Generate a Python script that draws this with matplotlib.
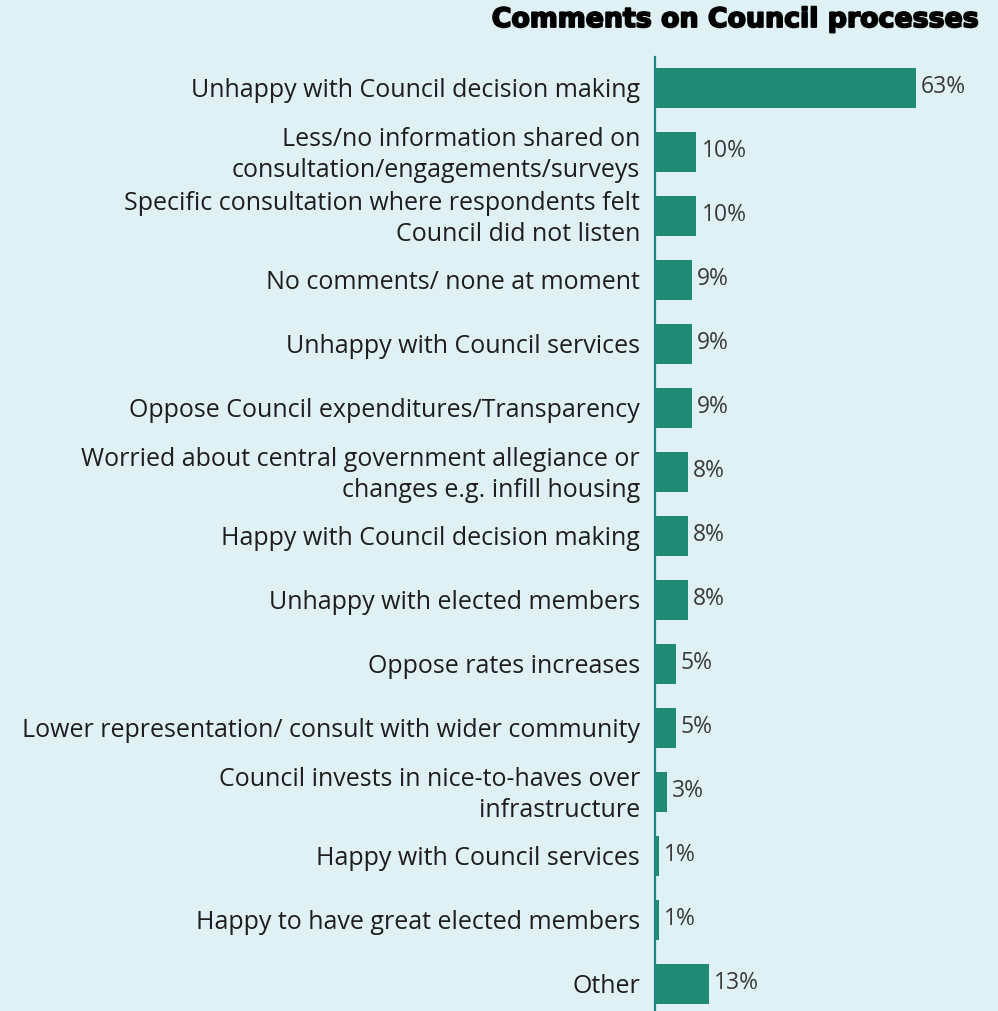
import matplotlib
matplotlib.use("Agg")
import matplotlib.pyplot as plt
import matplotlib.patheffects as pe

categories = [
    "Unhappy with Council decision making",
    "Less/no information shared on\nconsultation/engagements/surveys",
    "Specific consultation where respondents felt\nCouncil did not listen",
    "No comments/ none at moment",
    "Unhappy with Council services",
    "Oppose Council expenditures/Transparency",
    "Worried about central government allegiance or\nchanges e.g. infill housing",
    "Happy with Council decision making",
    "Unhappy with elected members",
    "Oppose rates increases",
    "Lower representation/ consult with wider community",
    "Council invests in nice-to-haves over\ninfrastructure",
    "Happy with Council services",
    "Happy to have great elected members",
    "Other",
]
percentages = [63, 10, 10, 9, 9, 9, 8, 8, 8, 5, 5, 3, 1, 1, 13]
title = "Comments on Council processes"

BG = "#dff1f4"
BAR = "#1f8b75"
AXIS = "#1c8a82"
TEXT = "#1e1e1e"
VAL = "#3a3a3a"

W, H = 998, 1012
fig = plt.figure(figsize=(W / 100, H / 100), dpi=100, facecolor=BG)

x0 = 655
ax = fig.add_axes([x0 / W, 0, 1 - x0 / W, 1 - 58 / H])
ax.set_facecolor(BG)

pos = list(range(len(categories)))
ax.barh(pos, percentages, height=0.625, color=BAR, zorder=2)

scale = (916 - x0) / 63.0
ax.set_xlim(0, (W - x0) / scale)
ax.set_ylim((1012 - 89) / 64, (58 - 89) / 64)

for side in ["top", "right", "bottom"]:
    ax.spines[side].set_visible(False)
ax.spines["left"].set_color(AXIS)
ax.spines["left"].set_linewidth(1.6)
ax.set_xticks([])
ax.set_yticks([])

font = "Open Sans"
for p, lab, v in zip(pos, categories, percentages):
    ax.text(-15 / scale, p + 0.03, lab, ha="right", va="center", fontsize=18,
            family=font, color=TEXT, linespacing=1.35)
    ax.text(v + 5 / scale, p - 0.03, f"{v}%", ha="left", va="center", fontsize=16.5,
            family=font, color=VAL)

fig.text(978 / W, 1 - 21 / H, title, ha="right", va="center", fontsize=19.3,
         family="DejaVu Sans", weight="heavy", color="#000000",
         path_effects=[pe.withStroke(linewidth=1.3, foreground="#000000")])

fig.savefig("out.png", dpi=100, facecolor=BG)
